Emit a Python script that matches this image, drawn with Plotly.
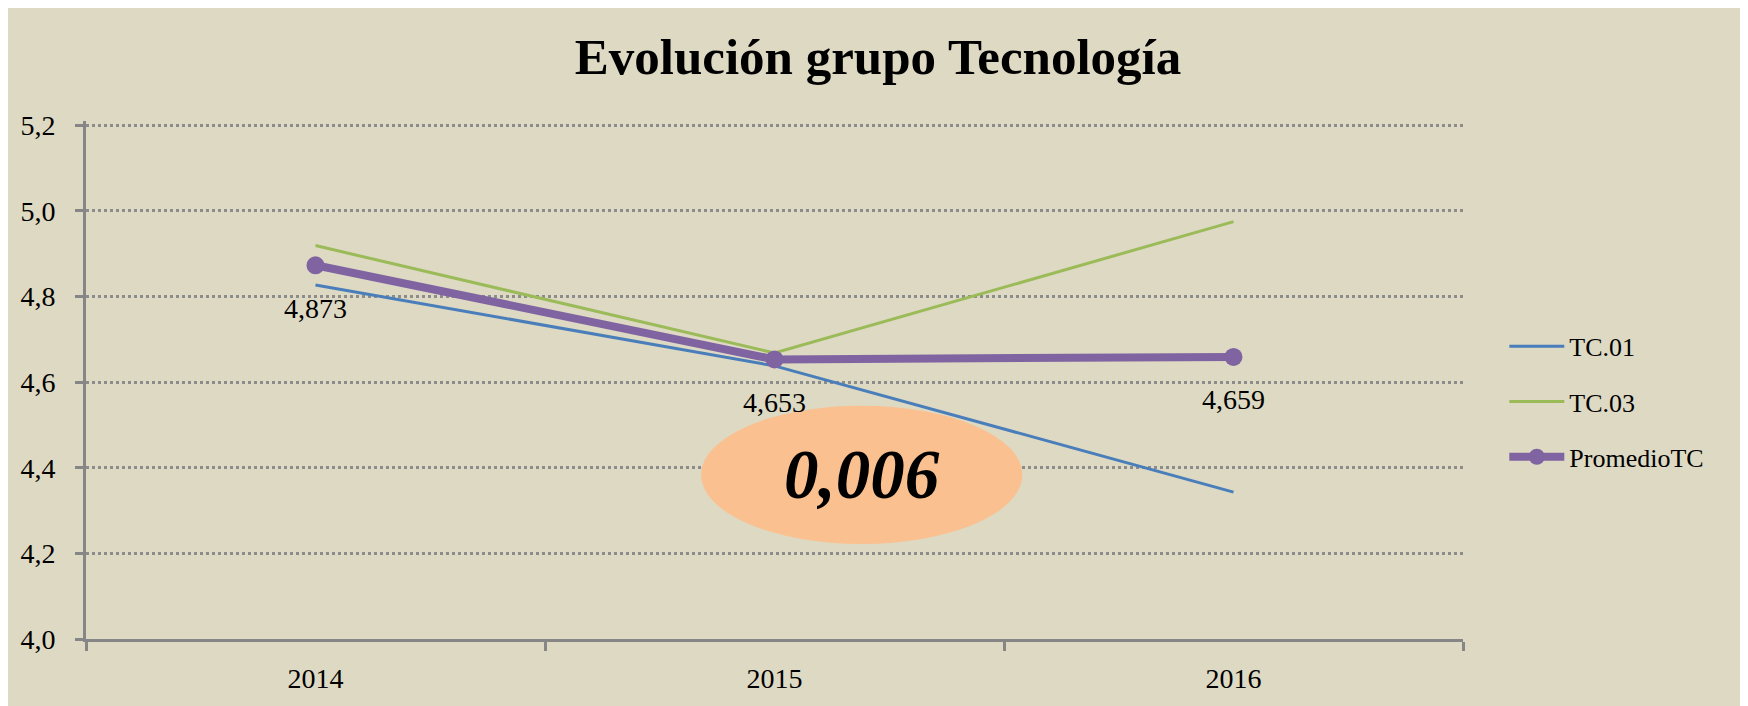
import plotly.graph_objects as go

years = ["2014", "2015", "2016"]
tc01 = [4.827, 4.638, 4.343]
tc03 = [4.919, 4.668, 4.975]
promedio = [4.873, 4.653, 4.659]
diff_label = "0,006"
y_ticks = [4.0, 4.2, 4.4, 4.6, 4.8, 5.0, 5.2]

BG = "#DDD9C3"
FONT = "Liberation Serif"

fig = go.Figure()
fig.add_trace(go.Scatter(x=years, y=tc01, mode="lines", name="TC.01",
                         line=dict(color="#4A7EBB", width=3), legendgroup="a"))
fig.add_trace(go.Scatter(x=years, y=tc03, mode="lines", name="TC.03",
                         line=dict(color="#9BBB59", width=3), legendgroup="b"))
fig.add_trace(go.Scatter(x=years, y=promedio, mode="lines+markers", name="PromedioTC",
                         line=dict(color="#8064A2", width=8),
                         marker=dict(color="#8064A2", size=18), legendgroup="c"))

for i, v in enumerate(promedio):
    fig.add_annotation(x=i, y=v, xref="x", yref="y", text=f"{v:.3f}".replace(".", ","),
                       showarrow=False, yshift=-43,
                       font=dict(family=FONT, size=28, color="black"))

# highlighted difference ellipse (between 2015 and 2016)
fig.add_shape(type="circle", xref="x", yref="y", x0=0.84, x1=1.54, y0=4.222, y1=4.545,
              fillcolor="#FAC090", line=dict(width=0), layer="above")
fig.add_annotation(x=1.19, y=4.384, xref="x", yref="y", text=f"<b><i>{diff_label}</i></b>",
                   showarrow=False, font=dict(family=FONT, size=69, color="black"))

fig.update_layout(
    width=1740, height=698,
    paper_bgcolor=BG, plot_bgcolor=BG,
    margin=dict(l=76, r=285, t=113, b=65),
    separators=",.",
    title=dict(text="<b>Evolución grupo Tecnología</b>", x=0.5, xref="container",
               xanchor="center", y=0.9305, yref="container", yanchor="middle",
               font=dict(family=FONT, size=51, color="black")),
    font=dict(family=FONT, size=26, color="black"),
    showlegend=True,
    legend=dict(x=1.030, xanchor="left", y=0.458, yanchor="middle", bgcolor="rgba(0,0,0,0)",
                font=dict(family=FONT, size=26, color="black"), itemwidth=55,
                tracegroupgap=18.5),
    xaxis=dict(type="category", range=[-0.5, 2.5], showline=True, linecolor="#868686",
               linewidth=3, ticks="outside", tickson="boundaries", ticklen=9, tickwidth=3,
               tickcolor="#868686", showgrid=False, zeroline=False,
               tickfont=dict(family=FONT, size=28, color="black"), ticklabelstandoff=12),
    yaxis=dict(range=[4.0, 5.21], tickvals=y_ticks, tickformat=".1f", showline=True,
               linecolor="#868686", linewidth=3, ticks="outside", ticklen=8, tickwidth=3,
               tickcolor="#868686", showgrid=True, gridcolor="#8C8C8C", gridwidth=2.5,
               griddash="dot", zeroline=False,
               tickfont=dict(family=FONT, size=28, color="black"), ticklabelstandoff=14),
)

fig.write_html("out.html")
